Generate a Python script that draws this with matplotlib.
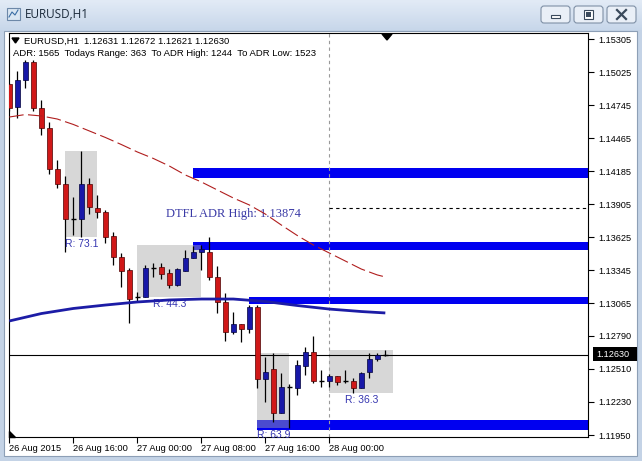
import numpy as np
import matplotlib.pyplot as plt
from matplotlib.patches import Rectangle, FancyBboxPatch, Polygon
from matplotlib.colors import LinearSegmentedColormap

plt.rcParams['font.family'] = ['Liberation Sans', 'DejaVu Sans']

# ---------------------------------------------------------------
# EURUSD H1 bars, first bar = 26 Aug 2015 08:00
# ---------------------------------------------------------------
opens = [1.14924, 1.14729, 1.14958, 1.15110, 1.14720, 1.14551, 1.14204, 1.14077,
         1.13782, 1.13780, 1.14077, 1.13873, 1.13839, 1.13636, 1.13458, 1.13348,
         1.13121, 1.13117, 1.13365, 1.13373, 1.13322, 1.13221, 1.13339, 1.13450,
         1.13500, 1.13500, 1.13289, 1.13077, 1.12823, 1.12891, 1.12848, 1.13035,
         1.12424, 1.12509, 1.12136, 1.12357, 1.12348, 1.12535, 1.12653, 1.12408,
         1.12408, 1.12450, 1.12408, 1.12408, 1.12348, 1.12484, 1.12594, 1.12631]
highs = [1.14932, 1.15034, 1.15127, 1.15127, 1.14788, 1.14602, 1.14280, 1.14144,
         1.13966, 1.14359, 1.14127, 1.13983, 1.13856, 1.13670, 1.13492, 1.13365,
         1.13162, 1.13390, 1.13407, 1.13407, 1.13356, 1.13365, 1.13517, 1.13555,
         1.13560, 1.13628, 1.13382, 1.13153, 1.12992, 1.12891, 1.13051, 1.13051,
         1.12611, 1.12645, 1.12475, 1.12382, 1.12585, 1.12696, 1.12789, 1.12501,
         1.12467, 1.12450, 1.12501, 1.12433, 1.12484, 1.12645, 1.12645, 1.12672]
lows = [1.14695, 1.14636, 1.14890, 1.14695, 1.14492, 1.14161, 1.14043, 1.13500,
        1.13645, 1.13628, 1.13822, 1.13789, 1.13577, 1.13390, 1.13204, 1.12899,
        1.13077, 1.13117, 1.13289, 1.13272, 1.13195, 1.13212, 1.13339, 1.13450,
        1.13348, 1.13263, 1.12984, 1.12746, 1.12806, 1.12738, 1.12814, 1.12348,
        1.12230, 1.12060, 1.12136, 1.12006, 1.12289, 1.12458, 1.12391, 1.12357,
        1.12357, 1.12374, 1.12391, 1.12309, 1.12348, 1.12433, 1.12577, 1.12621]
closes = [1.14720, 1.14958, 1.15110, 1.14720, 1.14551, 1.14204, 1.14077, 1.13780,
          1.13780, 1.14077, 1.13882, 1.13839, 1.13628, 1.13458, 1.13339, 1.13102,
          1.13119, 1.13365, 1.13367, 1.13314, 1.13221, 1.13356, 1.13450, 1.13500,
          1.13526, 1.13289, 1.13077, 1.12823, 1.12891, 1.12848, 1.13035, 1.12424,
          1.12484, 1.12136, 1.12357, 1.12359, 1.12543, 1.12653, 1.12408, 1.12406,
          1.12450, 1.12399, 1.12406, 1.12348, 1.12475, 1.12594, 1.12628, 1.12630]

time_ticks = [0, 8, 16, 24, 32, 40]
time_labels = ['26 Aug 2015', '26 Aug 16:00', '27 Aug 00:00', '27 Aug 08:00',
               '27 Aug 16:00', '28 Aug 00:00']
price_labels = ['1.15305', '1.15025', '1.14745', '1.14465', '1.14185', '1.13905',
                '1.13625', '1.13345', '1.13065', '1.12790', '1.12510', '1.12230',
                '1.11950']

# moving averages
ma_red_bars = [0, 2, 4, 6, 8, 10, 12, 14, 16, 18, 20, 22, 24, 26, 28, 30, 32, 34,
               36, 38, 40, 42, 44, 46, 47]
ma_red = [1.14644, 1.14665, 1.14653, 1.14627, 1.14581, 1.14526, 1.14471, 1.14411,
          1.14348, 1.14293, 1.14229, 1.14153, 1.14094, 1.14026, 1.13958, 1.13899,
          1.13822, 1.13729, 1.13640, 1.13560, 1.13492, 1.13424, 1.13356, 1.13306,
          1.13289]
ma_blue_bars = [0, 4, 8, 12, 16, 20, 24, 28, 32, 36, 40, 44, 47]
ma_blue = [1.12916, 1.12979, 1.13022, 1.13051, 1.13077, 1.13094, 1.13102, 1.13102,
           1.13081, 1.13047, 1.13017, 1.12996, 1.12984]

# supply / demand zones
zone_start = [23, 23, 30, 31]
zone_top = [1.14212, 1.13585, 1.13119, 1.12077]
zone_bottom = [1.14127, 1.13517, 1.13060, 1.11992]

# session range boxes
box_first = [8, 17, 32, 41]
box_last = [11, 24, 35, 47]
box_end = [11, 24, 35, 48]
box_labels = ['R: 73.1', 'R: 44.3', 'R: 63.9', 'R: 36.3']

adr_high = 1.13874
adr_start = 40
last_price = 1.12630
header1 = 'EURUSD,H1  1.12631 1.12672 1.12621 1.12630'
header2 = 'ADR: 1565  Todays Range: 363  To ADR High: 1244  To ADR Low: 1523'
adr_text = 'DTFL ADR High: 1.13874'

# ---------------------------------------------------------------
W, H = 642, 461
fig = plt.figure(figsize=(W / 100, H / 100), dpi=100)

# window chrome, drawn in pixel coordinates
bg = fig.add_axes([0, 0, 1, 1])
bg.axis('off')
bg.add_patch(Rectangle((0, 0), W, H, color='#c4d3e6', zorder=0))
cm = LinearSegmentedColormap.from_list('tb', ['#e2ebf6', '#c8d7ea'])
bg.imshow(np.linspace(0, 1, 30).reshape(-1, 1), extent=(0, W, 30, 0), cmap=cm,
          aspect='auto', zorder=1)
bg.add_patch(Rectangle((4, 31), W - 9, 425, facecolor='white', edgecolor='#8d9fb6',
                       lw=0.8, zorder=2))
bg.set_xlim(0, W)
bg.set_ylim(H, 0)

# title + icon
bg.add_patch(Rectangle((7, 8), 13, 12, facecolor='#d9e6f2', edgecolor='#6d88a8', lw=0.8, zorder=3))
bg.plot([9, 12, 15, 18], [17, 12, 15, 10], color='#3a6ea5', lw=0.8, zorder=4)
bg.text(25, 15, 'EURUSD,H1', fontsize=8.5, color='#1b2a3a', va='center', ha='left',
        family=['Open Sans', 'DejaVu Sans'], zorder=4)

# window buttons
for bx in [541, 574, 607]:
    bg.add_patch(FancyBboxPatch((bx, 6), 29, 17, boxstyle='round,pad=0,rounding_size=3',
                                facecolor='#e9eff7', edgecolor='#7f90a6', lw=0.8, zorder=3))
bg.add_patch(Rectangle((551, 15), 9, 3, facecolor='white', edgecolor='#3a4a5c', lw=0.8, zorder=4))
bg.add_patch(Rectangle((584, 10), 9, 9, facecolor='white', edgecolor='#3a4a5c', lw=0.8, zorder=4))
bg.add_patch(Rectangle((586, 12), 5, 5, facecolor='#3a4a5c', lw=0, zorder=5))
bg.plot([617, 626], [10, 19], color='#3a4a5c', lw=1.6, zorder=4)
bg.plot([617, 626], [19, 10], color='#3a4a5c', lw=1.6, zorder=4)

# ---------------------------------------------------------------
# price chart
ax = fig.add_axes([9 / W, (H - 437) / H, 579 / W, 404 / H])
ax.set_facecolor('white')
k = 0.03355 / 396
ax.set_xlim(-0.04, (588 - 9.3) / 8)
ax.set_ylim(1.15305 - 398 * k, 1.15305 + 6 * k)

x = np.arange(len(opens))
o = np.array(opens)
c = np.array(closes)
hi = np.array(highs)
lo = np.array(lows)

# zones
for s, t, b in zip(zone_start, zone_top, zone_bottom):
    ax.add_patch(Rectangle((s, b), 200, t - b, facecolor='#0000f0', edgecolor='none', zorder=1))

# session boxes
for f, l, e, lab in zip(box_first, box_last, box_end, box_labels):
    top = hi[f:l + 1].max()
    bot = lo[f:l + 1].min()
    ax.add_patch(Rectangle((f - 1, bot), e - f + 1, top - bot, facecolor='#a8a8a8',
                           alpha=0.45, edgecolor='none', zorder=2))
    ax.text((f - 1 + e) / 2, bot - 2 * k, lab, ha='center', va='top', fontsize=7.5,
            color='#3535b0', zorder=3.5)

# current price and separators
ax.axhline(last_price, color='black', lw=0.8, zorder=2.5)
ax.axvline(adr_start, color='#9a9a9a', lw=0.8, ls=(0, (3, 3)), zorder=1.5)
ax.hlines(adr_high, adr_start, 80, color='black', lw=0.8, ls=(0, (3, 3)), zorder=2.5)
ax.text(19.6, 1.13822, adr_text, family=['Liberation Serif', 'DejaVu Serif'],
        fontsize=9, color='#3a3aa6', va='center', ha='left', zorder=3.5)

# candles
up = c > o
dn = c < o
doji = np.abs(c - o) < 0.00004
ax.vlines(x, lo, hi, color='black', lw=0.9, zorder=3)
bw = 0.6
m = up & ~doji
ax.bar(x[m], (c - o)[m], bottom=o[m], width=bw, color='#1818a8', edgecolor='#00003a',
       lw=0.5, zorder=3.2)
m = dn & ~doji
ax.bar(x[m], (o - c)[m], bottom=c[m], width=bw, color='#d01818', edgecolor='#4a0000',
       lw=0.5, zorder=3.2)
ax.hlines(c[doji], x[doji] - bw / 2, x[doji] + bw / 2, color='black', lw=1.0, zorder=3.2)

# moving averages
ax.plot(ma_blue_bars, ma_blue, color='#1c1ca6', lw=2.0, zorder=4, solid_capstyle='butt')
ax.plot(ma_red_bars, ma_red, color='#b01e1e', lw=0.8, ls=(0, (13, 4)), zorder=4)

# axes styling
for sp in ax.spines.values():
    sp.set_linewidth(0.8)
    sp.set_color('black')
ax.yaxis.tick_right()
ax.set_yticks([float(v) for v in price_labels])
ax.set_yticklabels(price_labels)
ax.set_xticks(time_ticks)
ax.set_xticklabels(time_labels)
ax.tick_params(axis='y', direction='out', length=4, width=0.8, pad=3.5, labelsize=6.6)
ax.tick_params(axis='x', direction='out', length=4, width=0.8, pad=1, labelsize=6.7)
for lbl in ax.get_xticklabels():
    lbl.set_ha('left')

# header texts
tr = bg.transData
ax.text(24, 41, header1, transform=tr, fontsize=6.8, va='center', ha='left', zorder=6)
ax.text(13, 53, header2, transform=tr, fontsize=6.8, va='center', ha='left', zorder=6)
ax.add_patch(Polygon([[12, 38], [19, 38], [15.5, 43]], closed=True, color='black',
                     transform=tr, zorder=6))
# chart shift marker and scale marker
ax.add_patch(Polygon([[382, 34], [392, 34], [387, 40]], closed=True, color='black',
                     transform=tr, zorder=6, clip_on=False))
ax.add_patch(Polygon([[9, 431], [9, 437], [15, 437]], closed=True, color='black',
                     transform=tr, zorder=6, clip_on=False))

# last price tag
ax.add_patch(Rectangle((593, 347), 44, 14, facecolor='black', transform=tr,
                       clip_on=False, zorder=6))
ax.text(596, 354, '1.12630', transform=tr, fontsize=6.6, color='white', va='center',
        ha='left', zorder=7, clip_on=False)

fig.savefig('out.png', dpi=100)
